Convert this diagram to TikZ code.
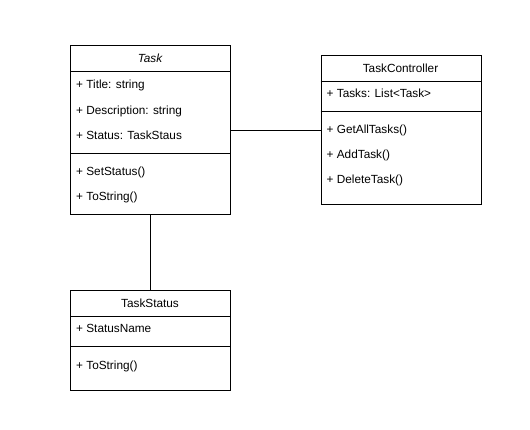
\documentclass[tikz,border=0pt]{standalone}
\usepackage{fontspec}
\setmainfont{Liberation Sans}
\begin{document}
\begin{tikzpicture}[x=1pt,y=-1pt,
  box/.style={draw=black,line width=0.8pt},
  ln/.style={draw=black,line width=0.8pt},
  attr/.style={anchor=base west,inner sep=0pt,font=\fontsize{11.8}{13}\selectfont},
  head/.style={anchor=base,inner sep=0pt,font=\fontsize{11.8}{13}\selectfont}]
\useasboundingbox (0,0) rectangle (530,430);
% Task
\node[box,minimum width=160,minimum height=169,inner sep=0pt,anchor=north west] (task) at (70,45) {};
\draw[ln] (70,71.5) -- (230,71.5);
\draw[ln] (70,153) -- (230,153);
\node[head] (taskh) at (150,63) {\itshape Task};
\node[attr] (t1) at (76,89) {+ Title: string};
\node[attr] (t2) at (76,115) {+ Description: string};
\node[attr] (t3) at (76,140) {+ Status: TaskStaus};
\node[attr] (t4) at (76,175.5) {+ SetStatus()};
\node[attr] (t5) at (76,201) {+ ToString()};
% TaskController
\node[box,minimum width=160,minimum height=149,inner sep=0pt,anchor=north west] (ctrl) at (320.5,55) {};
\draw[ln] (320.5,81.5) -- (480.5,81.5);
\draw[ln] (320.5,111.5) -- (480.5,111.5);
\node[head] (ctrlh) at (400.5,73) {TaskController};
\node[attr] (c1) at (326.5,97.5) {+ Tasks: List<Task>};
\node[attr] (c2) at (326.5,134) {+ GetAllTasks()};
\node[attr] (c3) at (326.5,159) {+ AddTask()};
\node[attr] (c4) at (326.5,184) {+ DeleteTask()};
% TaskStatus
\node[box,minimum width=160,minimum height=100,inner sep=0pt,anchor=north west] (stat) at (70,290) {};
\draw[ln] (70,316.5) -- (230,316.5);
\draw[ln] (70,346.5) -- (230,346.5);
\node[head] (stath) at (150,308) {TaskStatus};
\node[attr] (s1) at (76,332.5) {+ StatusName};
\node[attr] (s2) at (76,369) {+ ToString()};
% connectors
\coordinate (a1) at (230,130);
\coordinate (a2) at (320.5,130);
\draw[ln] (a1) -- (a2);
\draw[ln] (task.south) -- (stat.north);
\end{tikzpicture}
\end{document}
